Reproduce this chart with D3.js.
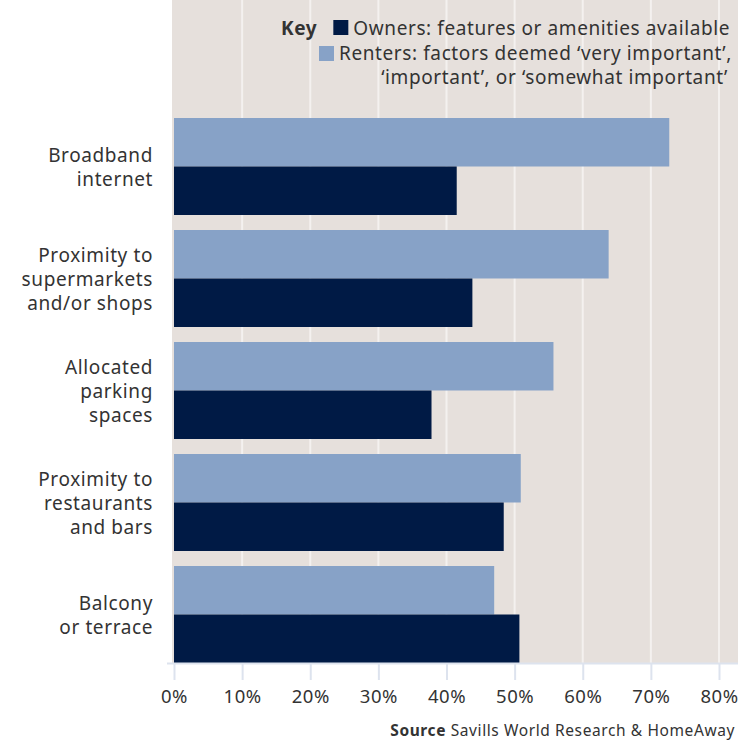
<!DOCTYPE html>
<html>
<head>
<meta charset="utf-8">
<script src="https://cdn.jsdelivr.net/npm/d3@7"></script>
<style>
  body { margin: 0; background: #fff; }
  svg { display: block; font-family: "Noto Sans", sans-serif; }
</style>
</head>
<body>
<div id="chart"></div>
<script>
// chart values
var categories = [
  ["Broadband", "internet"],
  ["Proximity to", "supermarkets", "and/or shops"],
  ["Allocated", "parking", "spaces"],
  ["Proximity to", "restaurants", "and bars"],
  ["Balcony", "or terrace"]
];
var renters = [72.7, 63.8, 55.7, 50.9, 47.0];
var owners = [41.5, 43.8, 37.8, 48.4, 50.7];
var seriesKeys = ["renters", "owners"];
var tickValues = [0, 10, 20, 30, 40, 50, 60, 70, 80];

var width = 738, height = 740;
var font = "'Noto Sans', sans-serif";
var colours = { renters: "#87a2c7", owners: "#001a45" };

var svg = d3.select("#chart").append("svg")
  .attr("width", width)
  .attr("height", height);

var x = d3.scaleLinear().domain([0, 80]).range([174, 719]);
var y = d3.scaleBand().domain(d3.range(categories.length))
  .range([118, 663]).paddingInner(0.134).paddingOuter(0);
var ySub = d3.scaleBand().domain(seriesKeys).range([0, y.bandwidth()]);

// plot background
svg.append("rect")
  .attr("x", 172).attr("y", 0)
  .attr("width", width - 172).attr("height", 663)
  .attr("fill", "#e6e0dc");

// gridlines
svg.append("g")
  .selectAll("line")
  .data(tickValues.slice(1))
  .enter()
  .append("line")
  .attr("x1", d => x(d)).attr("x2", d => x(d))
  .attr("y1", 0).attr("y2", 663)
  .attr("stroke", "#f4f1ef")
  .attr("stroke-width", 2);

// bars
var rows = categories.map((c, i) => ({ i: i, renters: renters[i], owners: owners[i] }));
var groups = svg.append("g")
  .selectAll("g")
  .data(rows)
  .enter()
  .append("g")
  .attr("transform", d => "translate(0," + y(d.i) + ")");

groups.selectAll("rect")
  .data(d => seriesKeys.map(k => ({ key: k, value: d[k] })))
  .enter()
  .append("rect")
  .attr("x", x(0))
  .attr("y", d => ySub(d.key))
  .attr("width", d => x(d.value) - x(0))
  .attr("height", ySub.bandwidth())
  .attr("fill", d => colours[d.key]);

// category labels
var labels = svg.append("g")
  .selectAll("text")
  .data(categories)
  .enter()
  .append("text")
  .attr("text-anchor", "end")
  .attr("font-size", 19)
  .attr("letter-spacing", 0.6)
  .attr("fill", "#333")
  .attr("transform", (d, i) => "translate(153," + (y(i) + y.bandwidth() / 2 + 1) + ")");

labels.selectAll("tspan")
  .data(d => d.map((line, j) => ({ line: line, j: j, n: d.length })))
  .enter()
  .append("tspan")
  .attr("x", 0)
  .attr("y", d => (d.j - (d.n - 1) / 2) * 24)
  .attr("dy", "0.35em")
  .text(d => d.line);

// x axis
svg.append("line")
  .attr("x1", 167).attr("x2", width)
  .attr("y1", 663.5).attr("y2", 663.5)
  .attr("stroke", "#dde3ee")
  .attr("stroke-width", 2);

var xAxis = svg.append("g")
  .attr("transform", "translate(0,663)")
  .call(d3.axisBottom(x).tickValues(tickValues).tickSize(17).tickPadding(10)
    .tickFormat(d => d + "%"));
xAxis.select(".domain").remove();
xAxis.selectAll(".tick line").attr("stroke", "#dde3ee").attr("stroke-width", 2);
xAxis.selectAll(".tick text")
  .attr("font-family", font)
  .attr("font-size", 18.5)
  .attr("letter-spacing", 0.5)
  .attr("fill", "#333");

// legend
var legend = svg.append("g").attr("font-size", 19).attr("letter-spacing", 0.6).attr("fill", "#333");
var ownersText = legend.append("text")
  .attr("x", 730).attr("y", 28).attr("dy", "0.35em")
  .attr("text-anchor", "end")
  .text("Owners: features or amenities available");
var rentersText = legend.append("text")
  .attr("x", 732).attr("y", 53).attr("dy", "0.35em")
  .attr("text-anchor", "end")
  .text("Renters: factors deemed \u2018very important\u2019,");
legend.append("text")
  .attr("x", 728).attr("y", 77).attr("dy", "0.35em")
  .attr("text-anchor", "end")
  .text("\u2018important\u2019, or \u2018somewhat important\u2019");

var ownersStart = 730 - ownersText.node().getComputedTextLength();
var rentersStart = 732 - rentersText.node().getComputedTextLength();
legend.append("rect")
  .attr("x", ownersStart - 20).attr("y", 20).attr("width", 15).attr("height", 15)
  .attr("fill", colours.owners);
legend.append("rect")
  .attr("x", rentersStart - 20).attr("y", 46).attr("width", 15).attr("height", 15)
  .attr("fill", colours.renters);
legend.append("text")
  .attr("x", ownersStart - 36).attr("y", 28).attr("dy", "0.35em")
  .attr("text-anchor", "end").attr("font-weight", "bold")
  .text("Key");

// source
var source = svg.append("text")
  .attr("x", 735).attr("y", 731).attr("dy", "0.35em")
  .attr("text-anchor", "end")
  .attr("font-size", 15.5)
  .attr("letter-spacing", 0.6)
  .attr("fill", "#333");
source.append("tspan").attr("font-weight", "bold").text("Source");
source.append("tspan").text(" Savills World Research & HomeAway");
</script>
</body>
</html>
